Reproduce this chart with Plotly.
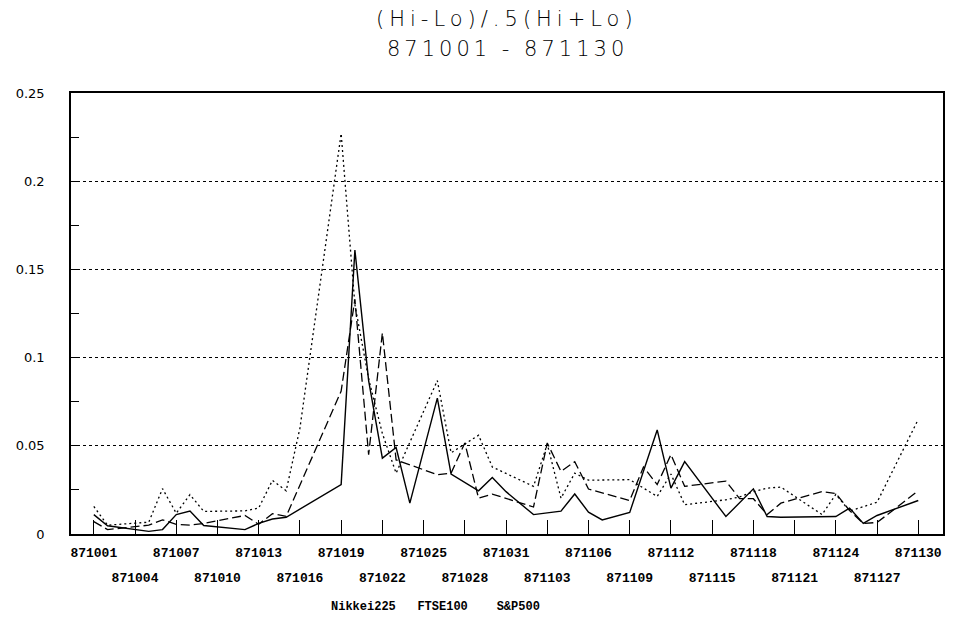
import plotly.graph_objects as go

# calendar days 871001 .. 871130
dates = ["8710%02d" % d for d in range(1, 32)] + ["8711%02d" % d for d in range(1, 31)]

row1_labels = ["871001", "871007", "871013", "871019", "871025", "871031",
               "871106", "871112", "871118", "871124", "871130"]
row2_labels = ["871004", "871010", "871016", "871022", "871028", "871103",
               "871109", "871115", "871121", "871127"]

series_names = ["Nikkei225", "FTSE100", "S&P500"]

nikkei = [
    0.011, 0.0047, None, None, 0.0015, 0.0025, 0.011,
    0.013, 0.0048, None, None, 0.0025, 0.006, 0.0085,
    0.0095, None, None, None, 0.028, 0.161, 0.087,
    0.043, 0.049, 0.0175, None, 0.077, 0.034, 0.029,
    0.0245, 0.032, 0.024, None, 0.011, 0.012, 0.013,
    0.0227, 0.0124, 0.008, None, 0.0122, None, 0.059,
    0.026, 0.041, None, None, 0.0099, None, 0.0256,
    0.0099, 0.0095, None, None, 0.0097, 0.0099, 0.0147,
    0.006, 0.0105, None, None, 0.019]

ftse = [
    0.007, 0.0025, None, None, 0.005, 0.008, 0.0055,
    0.005, 0.006, None, None, 0.0105, 0.0055, 0.0115,
    0.010, None, None, None, 0.081, 0.133, 0.045,
    0.114, 0.042, None, None, 0.0336, 0.0345, 0.0516,
    0.0203, 0.0226, None, None, 0.0153, 0.0516, 0.0355,
    0.041, 0.0255, None, None, 0.019, 0.038, 0.028,
    0.045, 0.027, None, None, 0.030, 0.020, 0.020,
    0.011, 0.0175, None, None, 0.024, 0.023, 0.0133,
    0.006, 0.0065, None, None, 0.0245]

sp500 = [
    0.0156, 0.005, None, None, 0.0067, 0.0257, 0.0118,
    0.0223, 0.0128, None, None, 0.0131, 0.0147, 0.0304,
    0.0245, 0.060, None, None, 0.227, 0.130, 0.088,
    0.057, 0.0345, None, None, 0.087, 0.046, 0.051,
    0.056, 0.038, None, None, 0.027, 0.051, 0.0203,
    0.0345, 0.0305, None, None, 0.0308, 0.026, 0.0213,
    0.034, 0.0166, None, None, 0.0194, 0.021, 0.024,
    0.026, 0.0266, None, None, 0.011, 0.0225, 0.013,
    None, 0.018, None, None, 0.065]

title_line1 = "(Hi-Lo)/.5(Hi+Lo)"
title_line2 = "871001 - 871130"

fig = go.Figure()
styles = [dict(color="black", width=1.4, dash="solid"),
          dict(color="black", width=1.3, dash="9px,4px"),
          dict(color="black", width=1.3, dash="2px,3px")]
for name, vals, st in zip(series_names, [nikkei, ftse, sp500], styles):
    fig.add_trace(go.Scatter(x=dates, y=vals, name=name, mode="lines",
                             line=st, connectgaps=True, showlegend=False))

# helper trace so the second (label-row) x axis is drawn
fig.add_trace(go.Scatter(x=dates, y=[None] * len(dates), xaxis="x2", mode="lines",
                         showlegend=False, hoverinfo="skip"))

xr = [-1.66, 61.8]
tickfont = dict(family="Liberation Mono", size=13, color="black", weight="bold")
title_font = dict(family="DejaVu Sans", size=21, color="black", weight=200)
fig.update_layout(
    width=945, height=624,
    margin=dict(l=60, r=8, t=85, b=98),
    paper_bgcolor="white", plot_bgcolor="white",
    xaxis=dict(type="category", categoryorder="array", categoryarray=dates,
               range=xr, tickvals=row1_labels, ticktext=row1_labels,
               ticks="inside", ticklen=14, tickwidth=1, tickcolor="black",
               showline=True, mirror=True, linecolor="black", linewidth=1.5,
               showgrid=False, zeroline=False, tickfont=tickfont,
               ticklabelstandoff=6),
    xaxis2=dict(type="category", categoryorder="array", categoryarray=dates,
                range=xr, overlaying="x", anchor="y", side="bottom",
                tickvals=row2_labels, ticktext=row2_labels,
                ticks="inside", ticklen=14, tickwidth=1, tickcolor="black",
                showline=False, showgrid=False, zeroline=False, tickfont=tickfont,
                ticklabelstandoff=34),
    yaxis=dict(range=[0, 0.25], dtick=0.05, tick0=0,
               showgrid=True, gridcolor="black", griddash="dot", gridwidth=1,
               ticks="inside", ticklen=8, tickcolor="black",
               minor=dict(dtick=0.025, ticks="inside", ticklen=8, tickcolor="black",
                          showgrid=False),
               showline=True, mirror=True, linecolor="black", linewidth=1.5,
               zeroline=False,
               tickfont=dict(family="DejaVu Sans", size=13, color="black"),
               ticklabelstandoff=22),
    annotations=[
        dict(text='<span style="letter-spacing:5px">' + title_line1 + '</span>',
             xref="paper", yref="paper", x=0.5, y=1.168,
             showarrow=False, yanchor="middle", font=title_font),
        dict(text='<span style="letter-spacing:4px">' + title_line2 + '</span>',
             xref="paper", yref="paper", x=0.5, y=1.1,
             showarrow=False, yanchor="middle", font=title_font),
        dict(text="\u00a0\u00a0\u00a0".join(series_names[:2]) + "\u00a0\u00a0\u00a0\u00a0" + series_names[2],
             xref="paper", yref="paper", x=0.418, y=-0.165,
             showarrow=False, yanchor="middle",
             font=dict(family="Liberation Mono", size=12, color="black", weight="bold")),
    ],
)

fig.write_html("out.html")
